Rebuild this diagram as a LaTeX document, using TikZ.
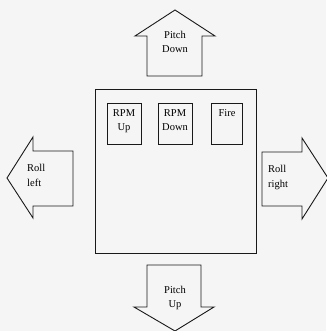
\documentclass[tikz,border=0pt]{standalone}
\usepackage{fontspec}
\setmainfont{Liberation Serif}
\begin{document}
\begin{tikzpicture}[x=1pt,y=-1pt,
  outl/.style={draw=black!90, line width=0.9pt, line join=miter},
  lbl/.style={font=\fontsize{10.5}{14}\selectfont, align=center, inner sep=0pt, text=black},
  lbll/.style={font=\fontsize{10.5}{15}\selectfont, align=left, inner sep=0pt, text=black}]
\useasboundingbox[fill=black!4] (0,0) rectangle (326,331);
% Pitch Down arrow
\draw[outl] (147,76) -- (147,36) -- (135,36) -- (175,10) -- (215,36) -- (202,36) -- (202,76) -- cycle;
\node[lbl] (pd) at (175,42) {Pitch\\Down};
% Main panel
\draw[outl] (95,89) rectangle (256,253);
\draw[outl] (107,103) rectangle (141,144);
\draw[outl] (158,103) rectangle (192,144);
\draw[outl] (211,103) rectangle (242,144);
\node[lbl, anchor=north] (rpmup) at (124,109) {RPM\\Up};
\node[lbl, anchor=north] (rpmdown) at (175,109) {RPM\\Down};
\node[lbl, anchor=north] (fire) at (227,109) {Fire};
% Roll left
\draw[outl] (73,151) -- (33,151) -- (33,137) -- (7,178) -- (33,218) -- (33,206) -- (73,206) -- cycle;
\node[lbll, anchor=west] (rl) at (27,175) {Roll\\left};
% Roll right
\draw[outl] (262,152) -- (302,152) -- (302,138) -- (328,178) -- (302,219) -- (302,206) -- (262,206) -- cycle;
\node[lbll, anchor=west] (rr) at (268,177) {Roll\\right};
% Pitch Up
\draw[outl] (147,265) -- (201,265) -- (201,307) -- (214,307) -- (175,331) -- (134,307) -- (147,307) -- cycle;
\node[lbl] (pu) at (175,298) {Pitch\\Up};
\end{tikzpicture}
\end{document}
